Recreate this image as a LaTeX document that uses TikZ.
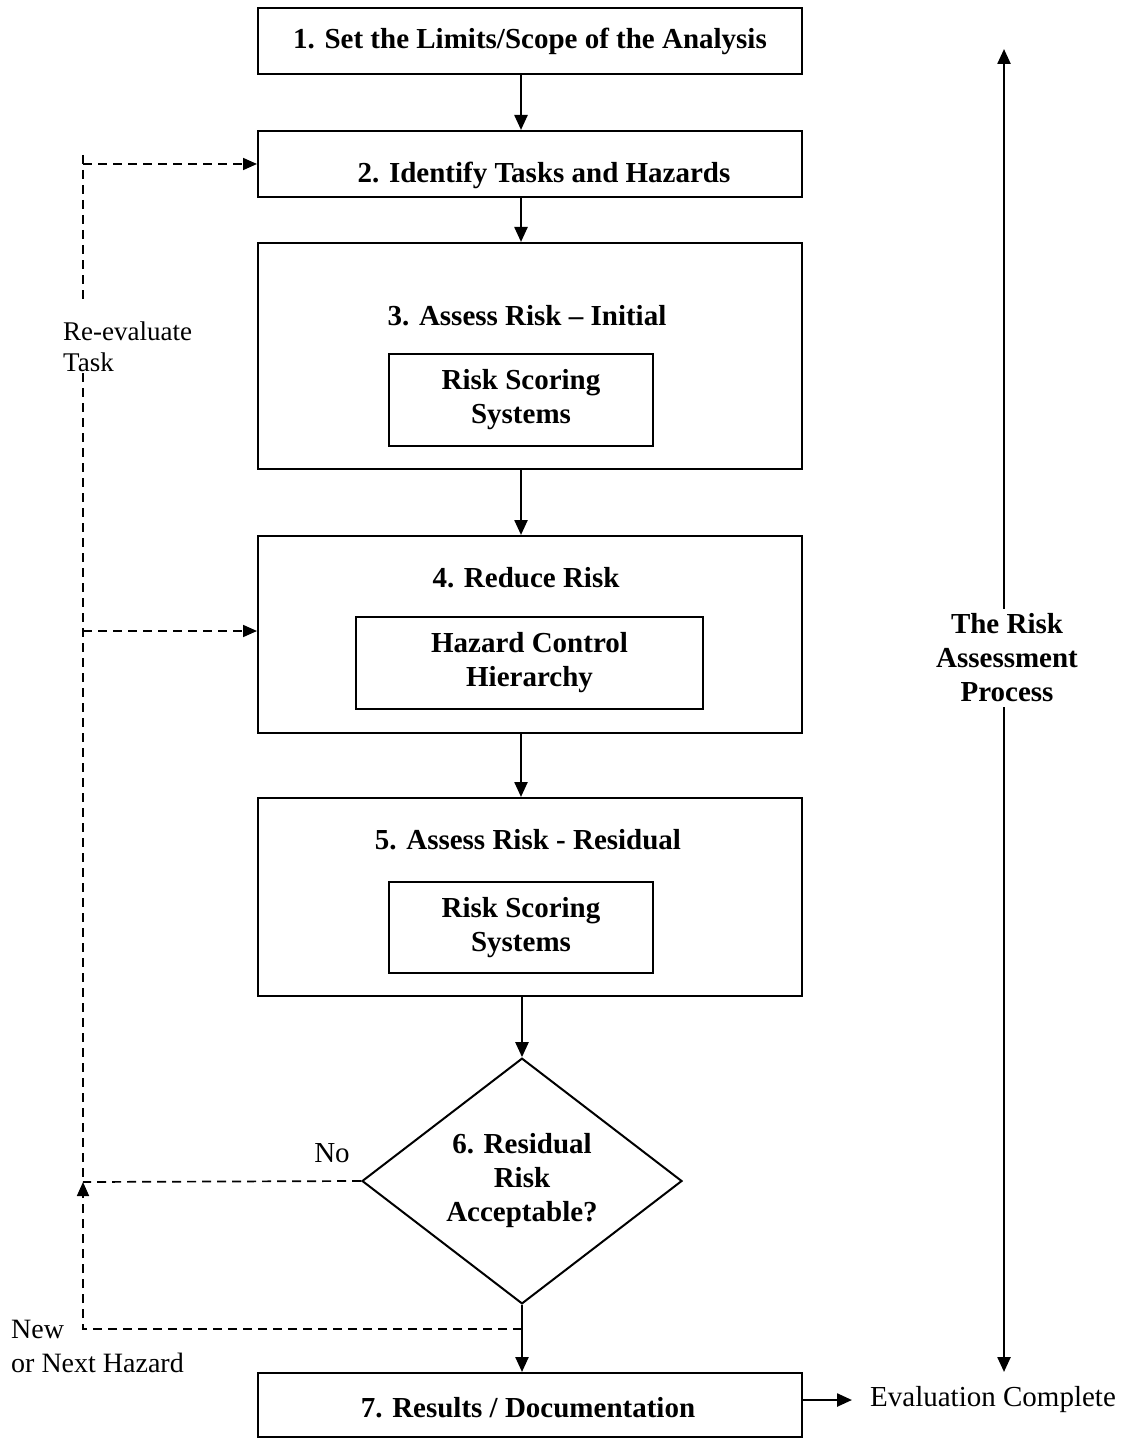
\documentclass[tikz,border=0pt]{standalone}
\usepackage{fontspec}
\setmainfont{Liberation Serif}
\usetikzlibrary{arrows.meta,shapes.geometric}

\begin{document}
\begin{tikzpicture}[x=1pt, y=-1pt,
  box/.style={draw, line width=2pt, inner sep=0pt},
  ttl/.style={font=\fontsize{29}{34}\selectfont\bfseries, align=center, inner sep=0pt},
  note/.style={font=\fontsize{29}{33}\selectfont, align=left, inner sep=0pt},
  flow/.style={line width=2.4pt, -{Triangle[length=15pt,width=13pt]}},
  back/.style={line width=1.7pt, dash pattern=on 9pt off 6pt},
  backtip/.style={back, -{Triangle[length=14pt,width=12pt]}}]

  %% ==== outer boxes ====
  \node[box, minimum width=544, minimum height=66]  (b1) at (530,41) {};
  \node[box, minimum width=544, minimum height=66]  (b2) at (530,164) {};
  \node[box, minimum width=544, minimum height=226] (b3) at (530,356) {};
  \node[box, minimum width=544, minimum height=197] (b4) at (530,634.5) {};
  \node[box, minimum width=544, minimum height=198] (b5) at (530,897) {};
  \node[box, minimum width=544, minimum height=64]  (b7) at (530,1405) {};

  %% ==== titles ====
  \node[ttl] (t1) at (530,41)   {1. Set the Limits/Scope of the Analysis};
  \node[ttl] (t2) at (544,175)  {2. Identify Tasks and Hazards};
  \node[ttl] (t3) at (527,316)  {3. Assess Risk -- Initial};
  \node[ttl] (t4) at (526,578)  {4. Reduce Risk};
  \node[ttl] (t5) at (528,840)  {5. Assess Risk - Residual};
  \node[ttl] (t7) at (528,1408) {7. Results / Documentation};

  %% ==== inner boxes ====
  \node[box, ttl, draw, minimum width=264, minimum height=92] (in3) at (521,400)   {Risk Scoring\\Systems};
  \node[box, ttl, draw, minimum width=347, minimum height=92] (in4) at (529.5,663) {Hazard Control\\Hierarchy};
  \node[box, ttl, draw, minimum width=264, minimum height=91] (in5) at (521,927.5) {Risk Scoring\\Systems};

  %% ==== decision ====
  \node[diamond, draw, line width=2pt, ttl, minimum width=320, minimum height=236]
    (dec) at (522,1181) {6. Residual\\Risk\\Acceptable?};

  %% ==== main flow ====
  \draw[flow] (b1.south -| in3) -- (b2.north -| in3);
  \draw[flow] (b2.south -| in3) -- (b3.north -| in3);
  \draw[flow] (b3.south -| in3) -- (b4.north -| in3);
  \draw[flow] (b4.south -| in3) -- (b5.north -| in3);
  \draw[flow] (b5.south -| dec) -- (dec.north);
  \draw[flow] (dec.south) -- (b7.north -| dec);

  %% ==== exit ====
  \node[note, anchor=west] (done) at (870,1400) {Evaluation Complete};
  \draw[flow, shorten >=18pt] (b7.east |- done.west) -- (done.west);

  %% ==== process arrow on the right ====
  \node[ttl, inner sep=5pt] (proc) at (1007,658) {The Risk\\Assessment\\Process};
  \coordinate (pt) at (1004,49);
  \coordinate (pb) at (1004,1372);
  \draw[flow] (proc.north -| pt) -- (pt);
  \draw[flow] (proc.south -| pb) -- (pb);

  %% ==== loop back (dashed) ====
  \node[note, anchor=west, font=\fontsize{27}{31}\selectfont] (reval) at (63,347) {Re-evaluate\\Task};
  \node[note] (no) at (332,1153) {No};
  \node[note, anchor=west, font=\fontsize{28}{34}\selectfont] (newh) at (11,1346) {New\\or Next Hazard};

  \coordinate (rt)  at (83,155);
  \coordinate (rg1) at (83,303);
  \coordinate (rg2) at (83,373);
  \coordinate (rj)  at (83,1182);
  \coordinate (rn)  at (83,1329);

  \draw[back] (rt) -- (rg1);
  \draw[back] (rg2) -- (rj);
  \draw[backtip] (rt |- b2.west) -- (b2.west);
  \draw[backtip] (83,631) -- (b4.west |- 0,631);
  \draw[back] (dec.west) -- (rj);
  \draw[backtip] (dec.south |- rn) -- (rn) -- (rj);

  \pgfresetboundingbox
  \path[use as bounding box] (0,0) rectangle (1127,1439);
\end{tikzpicture}
\end{document}
